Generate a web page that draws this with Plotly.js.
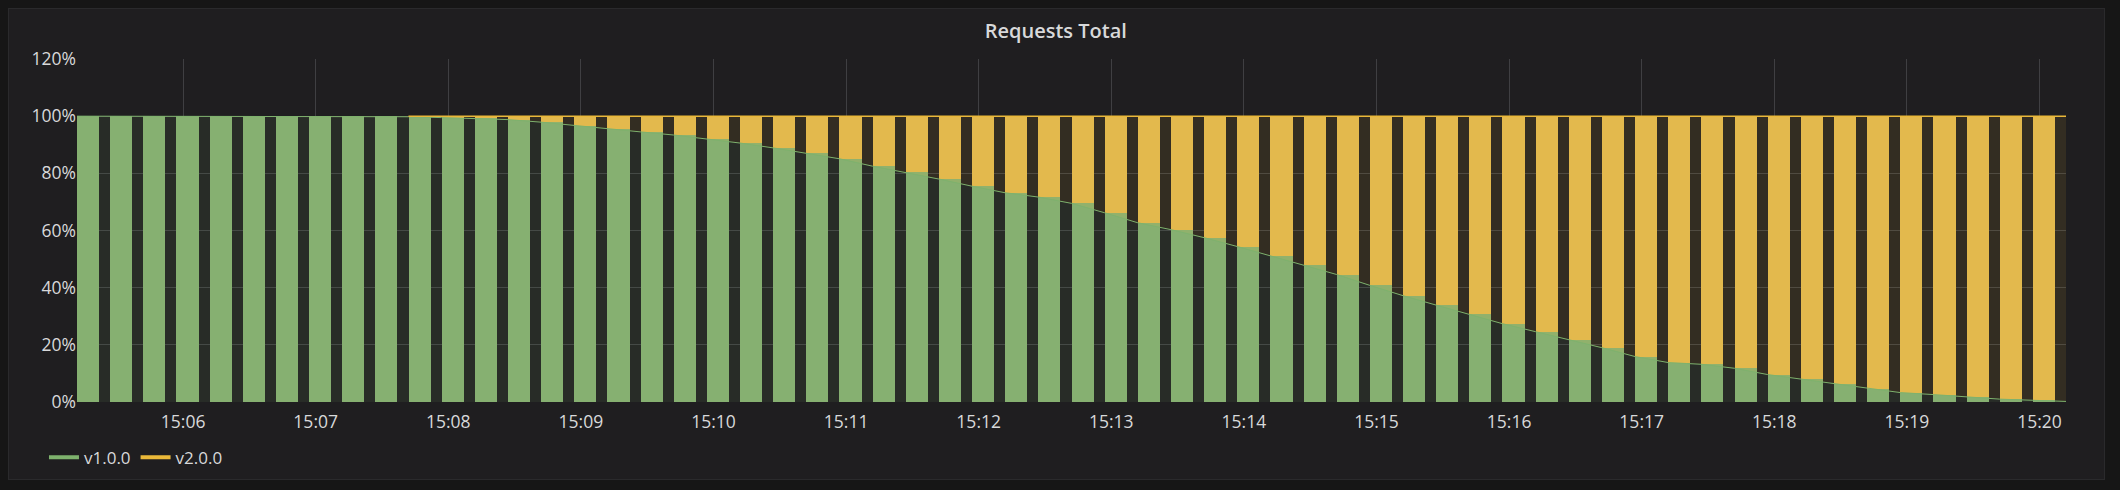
<!DOCTYPE html>
<html>
<head>
<meta charset="utf-8">
<script src="https://cdn.plot.ly/plotly-3.0.1.min.js"></script>
<style>
  html, body { margin: 0; padding: 0; background: #161616; width: 2120px; height: 490px; overflow: hidden; }
  #panel { position: absolute; left: 8px; top: 8px; width: 2095px; height: 470px; background: #1f1e20; border: 1px solid #2a2a2c; }
  #chart { position: absolute; left: 0; top: 0; width: 2120px; height: 490px; }
</style>
</head>
<body>
<div id="panel"></div>
<div id="chart"></div>
<script>
// ---- data (15 s samples, percent of total requests) ----
const day = "2018-05-10";
const times = [
  "15:05:12","15:05:27","15:05:42","15:05:57",
  "15:06:12","15:06:27","15:06:42","15:06:57",
  "15:07:12","15:07:27","15:07:42","15:07:57",
  "15:08:12","15:08:27","15:08:42","15:08:57",
  "15:09:12","15:09:27","15:09:42","15:09:57",
  "15:10:12","15:10:27","15:10:42","15:10:57",
  "15:11:12","15:11:27","15:11:42","15:11:57",
  "15:12:12","15:12:27","15:12:42","15:12:57",
  "15:13:12","15:13:27","15:13:42","15:13:57",
  "15:14:12","15:14:27","15:14:42","15:14:57",
  "15:15:12","15:15:27","15:15:42","15:15:57",
  "15:16:12","15:16:27","15:16:42","15:16:57",
  "15:17:12","15:17:27","15:17:42","15:17:57",
  "15:18:12","15:18:27","15:18:42","15:18:57",
  "15:19:12","15:19:27","15:19:42","15:19:57",
  "15:20:12"
];
const v1 = [
  100, 100, 100, 100, 100, 100, 100, 100, 100, 100,
  99.8, 99.5, 99.2, 98.8, 97.9, 96.7, 95.6, 94.5, 93.4, 92.1,
  90.6, 88.9, 87.1, 85.1, 82.5, 80.3, 78.0, 75.5, 73.2, 71.7,
  69.5, 66.2, 62.7, 60.3, 57.5, 54.4, 51.2, 47.8, 44.6, 40.8,
  37.2, 33.9, 30.7, 27.4, 24.6, 21.8, 19.0, 15.9, 13.8, 13.2,
  11.8, 9.6, 8.0, 6.3, 4.7, 3.3, 2.6, 1.9, 1.0, 0.6,
  0.2
];
const v2 = [
  null, null, null, null, null, null, null, null, null, null,
  0.2, 0.5, 0.8, 1.2, 2.1, 3.3, 4.4, 5.5, 6.6, 7.9,
  9.4, 11.1, 12.9, 14.9, 17.5, 19.7, 22.0, 24.5, 26.8, 28.3,
  30.5, 33.8, 37.3, 39.7, 42.5, 45.6, 48.8, 52.2, 55.4, 59.2,
  62.8, 66.1, 69.3, 72.6, 75.4, 78.2, 81.0, 84.1, 86.2, 86.8,
  88.2, 90.4, 92.0, 93.7, 95.3, 96.7, 97.4, 98.1, 99.0, 99.4,
  99.8
];
const seriesNames = ["v1.0.0", "v2.0.0"];
const yTicks = [0, 20, 40, 60, 80, 100, 120];
const yTickText = ["0%", "20%", "40%", "60%", "80%", "100%", "120%"];

// ---- styles ----
const GREEN = "#7EB26D", YELLOW = "#EAB839";
const GREEN_BAR = "#87B072", YELLOW_BAR = "#E2B950";
const TEXT = "#d8d9da", GRID = "#3f3f42";
const FONT = "Open Sans, Noto Sans, sans-serif";

const x = times.map(t => day + " " + t);
const stackTop = v1.map((a, i) => a + (v2[i] == null ? 0 : v2[i]));
const v2Line = v1.map((a, i) => v2[i] == null ? null : a + v2[i]);

const traces = [
  { type: "scatter", mode: "lines", x: x, y: v1, fill: "tozeroy",
    fillcolor: "rgba(126,178,109,0.10)", line: { color: GREEN, width: 1 },
    showlegend: false, hoverinfo: "skip" },
  { type: "scatter", mode: "lines", x: x, y: stackTop, fill: "tonexty",
    fillcolor: "rgba(234,184,57,0.10)", line: { width: 0, color: YELLOW },
    showlegend: false, hoverinfo: "skip" },
  { type: "scatter", mode: "lines", x: x, y: v2Line, connectgaps: false,
    line: { color: YELLOW, width: 1.5 }, showlegend: false, hoverinfo: "skip" },
  { type: "scatter", mode: "lines", x: [null], y: [null], name: seriesNames[0],
    line: { color: GREEN, width: 4 }, showlegend: true },
  { type: "scatter", mode: "lines", x: [null], y: [null], name: seriesNames[1],
    line: { color: YELLOW, width: 4 }, showlegend: true },
  { type: "bar", x: x, y: v1, width: 10000, offset: 0, name: seriesNames[0],
    marker: { color: GREEN_BAR, line: { width: 0 } }, showlegend: false },
  { type: "bar", x: x, y: v2, width: 10000, offset: 0, name: seriesNames[1],
    marker: { color: YELLOW_BAR, line: { width: 0 } }, showlegend: false }
];

const layout = {
  width: 2120, height: 490,
  paper_bgcolor: "rgba(0,0,0,0)", plot_bgcolor: "rgba(0,0,0,0)",
  margin: { l: 77, r: 54, t: 59, b: 88, pad: 0 },
  barmode: "stack", bargap: 0,
  font: { family: FONT, color: TEXT, size: 17 },
  title: { text: "Requests Total", x: 0.498, xref: "container", xanchor: "center",
           y: 0.937, yref: "container", yanchor: "middle",
           font: { family: FONT, size: 20, color: TEXT, weight: 600 } },
  xaxis: { type: "date", range: [x[0], x[x.length - 1]], dtick: 60000,
           tick0: day + " 15:00:00", tickformat: "%H:%M", showgrid: true,
           gridcolor: GRID, gridwidth: 1, zeroline: false, showline: false,
           ticks: "", ticklabelstandoff: 7,
           tickfont: { size: 17.5, color: TEXT }, fixedrange: true },
  yaxis: { range: [0, 120], tickmode: "array", tickvals: yTicks, ticktext: yTickText,
           showgrid: true, gridcolor: GRID, gridwidth: 1, zeroline: false, showline: false,
           ticks: "", tickfont: { size: 17.5, color: TEXT }, fixedrange: true },
  showlegend: true,
  legend: { orientation: "h", traceorder: "normal", x: -0.0166, xanchor: "left",
            y: -0.11, yanchor: "top",
            font: { size: 17, color: TEXT }, bgcolor: "rgba(0,0,0,0)", itemclick: false }
};

Plotly.newPlot("chart", traces, layout, { displayModeBar: false, staticPlot: true });
</script>
</body>
</html>
